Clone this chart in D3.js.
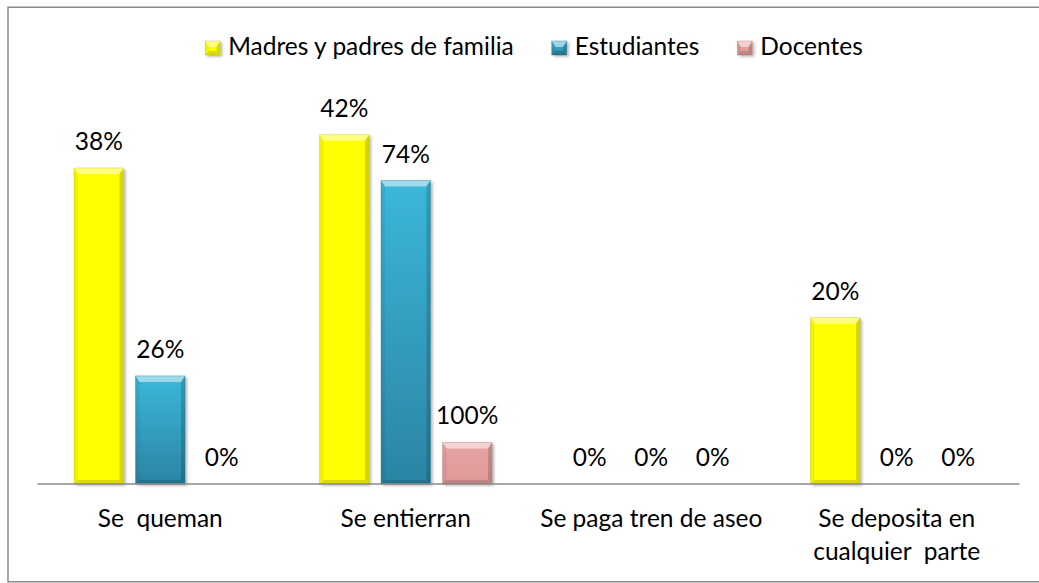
<!DOCTYPE html>
<html lang="es">
<head>
<meta charset="utf-8">
<title>Manejo de la basura</title>
<script src="https://cdn.jsdelivr.net/npm/d3@7"></script>
<style>
  body { margin: 0; background: #fff; }
  svg { display: block; font-family: Lato, "Open Sans", sans-serif; }
</style>
</head>
<body>
<script>
// categories (one array of lines per label)
var categories = [["Se  queman"], ["Se entierran"], ["Se paga tren de aseo"], ["Se deposita en", "cualquier  parte"]];
var seriesNames = ["Madres y padres de familia", "Estudiantes", "Docentes"];

// bar heights as drawn
var parentsValues = [38, 42, 0, 20];
var studentsValues = [13, 36.5, 0, 0];
var teachersValues = [0, 5, 0, 0];

// data labels shown above the bars
var parentsLabels = ["38%", "42%", "0%", "20%"];
var studentsLabels = ["26%", "74%", "0%", "0%"];
var teachersLabels = ["0%", "100%", "0%", "0%"];

var yMax = 45;

var width = 1039, height = 583;
var fontSize = 24.5;

var seriesStyle = [
    {top: '#ffff00', bottom: '#ffff00', edge: '#b8b800'},
    {top: '#3bb7da', bottom: '#2b84a3', edge: '#1f6a84'},
    {top: '#e8a5a5', bottom: '#de9898', edge: '#b77878'}
];

var values = [parentsValues, studentsValues, teachersValues];
var labels = [parentsLabels, studentsLabels, teachersLabels];

var svg = d3.select('body').append('svg')
    .attr('width', width)
    .attr('height', height);

var defs = svg.append('defs');
seriesStyle.forEach(function (s, i) {
    var g = defs.append('linearGradient')
        .attr('id', 'grad' + i)
        .attr('x1', 0).attr('y1', 0).attr('x2', 0).attr('y2', 1);
    g.append('stop').attr('offset', '0%').attr('stop-color', s.top);
    g.append('stop').attr('offset', '100%').attr('stop-color', s.bottom);
});
var shadow = defs.append('filter').attr('id', 'shadow')
    .attr('x', '-20%').attr('y', '-20%').attr('width', '150%').attr('height', '150%');
shadow.append('feDropShadow')
    .attr('dx', 2).attr('dy', 1.5).attr('stdDeviation', 1.8)
    .attr('flood-color', '#000').attr('flood-opacity', 0.3);

// chart frame
svg.append('rect')
    .attr('x', 8).attr('y', 7.25)
    .attr('width', 1045).attr('height', 574.5)
    .attr('fill', '#fff')
    .attr('stroke', '#8a8a8a')
    .attr('stroke-width', 1.5);

var x0 = d3.scaleBand()
    .domain(d3.range(categories.length))
    .range([37.5, 1019.5])
    .paddingInner(0.2974)
    .paddingOuter(0.1487);

var x1 = d3.scaleBand()
    .domain(d3.range(seriesNames.length))
    .range([0, x0.bandwidth()])
    .paddingInner(0.195);

var y = d3.scaleLinear()
    .domain([0, yMax])
    .range([484, 484 - yMax * 8.314]);

// draw a bevelled box like the office chart style
function bevelBox(sel, x, top, w, h, si) {
    var s = seriesStyle[si];
    var g = sel.append('g');
    var bt = Math.min(6, h / 2), bs = Math.min(4, w / 4), bb = Math.min(4, h / 3);
    g.append('rect')
        .attr('x', x).attr('y', top)
        .attr('width', w).attr('height', h)
        .attr('fill', 'url(#grad' + si + ')')
        .attr('filter', 'url(#shadow)');
    var r = x + w, b = top + h;
    var faces = [
        {pts: [[x, top], [r, top], [r - bs, top + bt], [x + bs, top + bt]], fill: '#fff', op: 0.5},
        {pts: [[x, top], [x + bs, top + bt], [x + bs, b - bb], [x, b]], fill: '#000', op: 0.06},
        {pts: [[r, top], [r, b], [r - bs, b - bb], [r - bs, top + bt]], fill: '#000', op: 0.16},
        {pts: [[x, b], [x + bs, b - bb], [r - bs, b - bb], [r, b]], fill: '#000', op: 0.14}
    ];
    g.selectAll('polygon').data(faces).enter().append('polygon')
        .attr('points', function (d) { return d.pts.map(function (p) { return p.join(','); }).join(' '); })
        .attr('fill', function (d) { return d.fill; })
        .attr('fill-opacity', function (d) { return d.op; });
    g.append('rect')
        .attr('x', x).attr('y', top)
        .attr('width', w).attr('height', h)
        .attr('fill', 'none')
        .attr('stroke', s.edge)
        .attr('stroke-opacity', 0.5)
        .attr('stroke-width', 0.6);
}

var bars = [];
categories.forEach(function (c, ci) {
    seriesNames.forEach(function (s, si) {
        bars.push({ci: ci, si: si, value: values[si][ci], label: labels[si][ci]});
    });
});

var plot = svg.append('g');
bars.forEach(function (d) {
    if (d.value <= 0) return;
    var x = x0(d.ci) + x1(d.si);
    bevelBox(plot, x, y(d.value), x1.bandwidth(), y(0) - y(d.value), d.si);
});

// axis line
svg.append('line')
    .attr('x1', x0.range()[0]).attr('x2', x0.range()[1])
    .attr('y1', y(0)).attr('y2', y(0))
    .attr('stroke', '#8a8a8a')
    .attr('stroke-width', 1.5);

// data labels
svg.append('g').selectAll('text')
    .data(bars)
    .enter()
    .append('text')
    .attr('x', function (d) { return x0(d.ci) + x1(d.si) + x1.bandwidth() / 2; })
    .attr('y', function (d) { return y(d.value) - 18; })
    .attr('text-anchor', 'middle')
    .attr('font-size', fontSize)
    .attr('fill', '#000')
    .text(function (d) { return d.label; });

// category labels
var catText = svg.append('g').selectAll('text')
    .data(categories)
    .enter()
    .append('text')
    .attr('text-anchor', 'middle')
    .attr('font-size', fontSize)
    .attr('fill', '#000');
catText.selectAll('tspan')
    .data(function (d, i) { return d.map(function (line, li) { return {line: line, li: li, ci: i}; }); })
    .enter()
    .append('tspan')
    .attr('x', function (d) { return x0(d.ci) + x0.bandwidth() / 2; })
    .attr('y', function (d) { return 527 + d.li * 33; })
    .style('white-space', 'pre')
    .text(function (d) { return d.line; });

// legend
var legend = svg.append('g');
var items = legend.selectAll('g')
    .data(seriesNames)
    .enter()
    .append('g');
items.append('text')
    .attr('y', 55)
    .attr('font-size', fontSize)
    .attr('fill', '#000')
    .text(function (d) { return d; });
var cursor = 0;
items.each(function (d, i) {
    var item = d3.select(this);
    var tw = item.select('text').node().getComputedTextLength();
    bevelBox(item, cursor, 41, 15, 14, i);
    item.select('text').attr('x', cursor + 23).raise();
    cursor += 23 + tw + 38;
});
var legendWidth = cursor - 38;
legend.attr('transform', 'translate(' + (534 - legendWidth / 2) + ',0)');
</script>
</body>
</html>
